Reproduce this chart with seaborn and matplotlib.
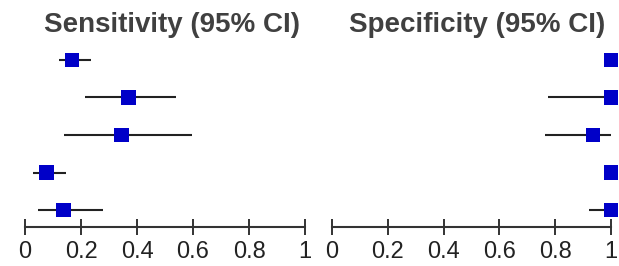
import matplotlib
matplotlib.use("Agg")
import matplotlib.pyplot as plt
import seaborn as sns
import pandas as pd
import numpy as np

studies = ["S1", "S2", "S3", "S4", "S5"]
sens = [0.168, 0.37, 0.345, 0.077, 0.137]
sens_lo = [0.12, 0.214, 0.14, 0.03, 0.047]
sens_hi = [0.235, 0.54, 0.595, 0.145, 0.28]
spec = [1.0, 1.0, 0.935, 1.0, 1.0]
spec_lo = [1.0, 0.775, 0.765, 1.0, 0.92]
spec_hi = [1.0, 1.0, 1.0, 1.0, 1.0]
ticks = [0, 0.2, 0.4, 0.6, 0.8, 1]
tick_labels = ["0", "0.2", "0.4", "0.6", "0.8", "1"]

sns.set_style("white")
plt.rcParams['font.family'] = ['Liberation Sans', 'DejaVu Sans']

W, H = 619, 266
fig = plt.figure(figsize=(W / 100, H / 100), dpi=100)

def px_axes(x0, x1, top, bottom):
    return fig.add_axes([x0 / W, 1 - bottom / H, (x1 - x0) / W, (bottom - top) / H])

ax1 = px_axes(25, 305, 40, 227)
ax2 = px_axes(332, 611, 40, 227)

panels = [
    (ax1, sens, sens_lo, sens_hi, "Sensitivity (95% CI)", 0.525),
    (ax2, spec, spec_lo, spec_hi, "Specificity (95% CI)", 0.52),
]

for ax, est, lo, hi, title, tx in panels:
    df = pd.DataFrame({"study": studies, "est": est, "lo": lo, "hi": hi,
                       "pos": np.arange(len(studies))})
    ax.hlines(df["pos"], df["lo"], df["hi"], color="#222222", linewidth=1.5, zorder=2)
    sns.scatterplot(data=df, x="est", y="pos", marker="s", s=110, color="#0000c8",
                    edgecolor="none", ax=ax, zorder=3, clip_on=False, legend=False)
    ax.set_xlim(0, 1)
    ax.set_ylim(4.453, -0.533)
    ax.set_xticks(ticks)
    ax.set_xticklabels(tick_labels)
    ax.set_yticks([])
    ax.set_xlabel("")
    ax.set_ylabel("")
    for s in ["top", "left", "right"]:
        ax.spines[s].set_visible(False)
    ax.spines["bottom"].set_color("#333333")
    ax.spines["bottom"].set_linewidth(1.5)
    ax.tick_params(axis="x", direction="inout", length=12, width=1.4, color="#333333",
                   labelsize=17, labelcolor="#222222", pad=4, bottom=True)
    ax.set_facecolor("none")
    ax.set_title(title, fontsize=20, fontweight="bold", color="#404040", pad=6, x=tx)

fig.savefig("out.png", dpi=100)
